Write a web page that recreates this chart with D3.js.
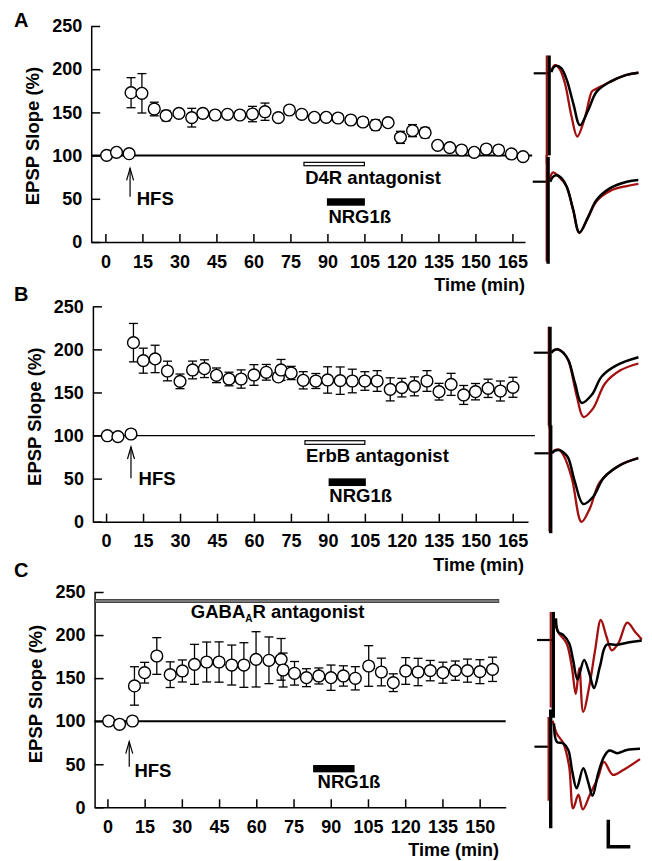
<!DOCTYPE html>
<html>
<head>
<meta charset="utf-8">
<script src="https://cdn.jsdelivr.net/npm/d3@7"></script>
<style>
  body { margin: 0; background: #fff; }
  svg text { font-family: "Liberation Sans", Arial, sans-serif; font-weight: bold; fill: #000; }
</style>
</head>
<body>
<svg id="fig" width="652" height="861"></svg>
<script>
// ── Data: time (min), mean EPSP slope (%), SEM ───────────────────────────────
const aTime = [0.5, 4.5, 9.6, 10.4, 14.8, 19.8, 24.6, 29.8, 35, 39.5, 44.5, 49.5, 54.5,
  59.6, 64.7, 70.1, 74.6, 79.6, 84.7, 89.5, 94.3, 99.5, 104.4, 109.5, 114.6, 119.6,
  124.5, 129.6, 134.7, 139.6, 144.4, 149.5, 154.4, 159.4, 164.6, 169.3];
const aMean = [100.3, 103.8, 102.2, 172.8, 172.1, 153.9, 146.2, 148.9, 143.9, 148.9, 147,
  147.8, 147, 148.1, 150.8, 143.9, 152.8, 147.8, 144.3, 144.3, 143.5, 141.2, 138.9, 135.4,
  138.1, 121.1, 128.9, 126.5, 111.9, 109.2, 106.5, 103.8, 107.6, 106.5, 101.9, 98.8];
const aSem = [1, 1, 1, 17.4, 22.8, 7.9, 6, 3, 10.8, 2, 2, 2, 2, 8.9, 10, 4, 3, 2, 2, 3, 2,
  3, 5, 6, 3, 7, 7, 6, 3, 3, 3, 3, 3, 3, 3, 3];

const bTime = [0.5, 4.8, 10.1, 11.1, 15.1, 19.9, 24.9, 30, 35.1, 39.9, 44.8, 49.9, 54.8,
  60, 65, 69.9, 71, 75.1, 80, 85.1, 89.9, 95, 99.9, 105, 110, 115.3, 120, 125.1, 130.2,
  135.1, 140, 145.1, 149.9, 155, 160, 165.1];
const bMean = [99.8, 98.7, 101.8, 207.8, 186.9, 188.9, 174.9, 162.9, 176.1, 177.6, 169.9,
  165.6, 165.6, 170.3, 173.4, 168, 176.1, 172.6, 164.1, 163.3, 164.5, 163.7, 163.3, 163.3,
  163.3, 153.6, 155.6, 157.1, 163.3, 150.9, 159.4, 147.1, 150.9, 154.8, 151.7, 156];
const bSem = [1, 1, 1, 22.3, 14.5, 15.9, 11.4, 8.5, 10.3, 10.3, 8.5, 7.9, 10.6, 12, 9.1, 5,
  12.2, 7.7, 10, 8.7, 15.3, 15.9, 13.7, 10.8, 12, 13.4, 10.8, 11, 12, 9.7, 12.8, 11, 9.5,
  10.6, 11.6, 11.6];

const cTime = [0.5, 4.9, 10.1, 10.9, 15, 19.9, 25.3, 30.2, 35.1, 40, 45, 50.1, 55, 59.9,
  65.1, 70, 70.8, 75.4, 80.2, 85.2, 90.1, 95.1, 99.9, 105.3, 110.4, 115.2, 120.2, 125.2,
  130.1, 135.2, 140.2, 145.1, 150.1, 155.2];
const cMean = [100.2, 96.4, 100.2, 140.9, 156.3, 175.7, 154, 158.3, 166, 168.7, 168.7,
  165.2, 165.2, 171.8, 170.7, 171.8, 159.4, 155.6, 150.5, 152.5, 150.5, 152.5, 149.8, 164.1,
  157.1, 144.7, 158.3, 157.1, 158.7, 156.3, 158.7, 158.7, 157.5, 160.2];
const cSem = [1, 1, 1, 22.3, 12, 21.3, 14.9, 12.8, 23.2, 23.2, 23.4, 23.2, 25.9, 32.1, 27.1,
  24.2, 19.7, 13.7, 10.4, 9.3, 14.7, 11.8, 13.5, 23.6, 16.1, 10.3, 15.5, 15.9, 11.8, 12.2,
  11.2, 13.4, 13.9, 14.1];

const yTicks = [0, 50, 100, 150, 200, 250];
const xTicksAB = [0, 15, 30, 45, 60, 75, 90, 105, 120, 135, 150, 165];
const xTicksC = [0, 15, 30, 45, 60, 75, 90, 105, 120, 135, 150];

// ── Example traces: [ms, mV] (black = baseline, red = after treatment) ───────
const trA1k = [[0.3,0.02],[0.8,0.11],[1.5,0.14],[2.6,0.09],[3.8,-0.12],[5.3,-0.56],[6.8,-0.96],[8.7,-0.68],[10.6,-0.34],[13.6,-0.16],[17.4,-0.03],[20.1,0.01]];
const trA1r = [[0.3,0.04],[1.1,0.15],[2.2,0.08],[3.4,-0.19],[4.9,-0.80],[6.2,-1.17],[8.0,-0.80],[9.5,-0.34],[10.2,-0.30],[12.1,-0.22],[13.6,-0.16],[17.4,-0.03],[20.1,0.01]];
const trA2k = [[0.3,0.0],[0.9,0.09],[1.75,0.12],[2.8,0.07],[4.0,-0.09],[5.5,-0.52],[6.9,-0.94],[8.9,-0.65],[10.8,-0.34],[13.9,-0.12],[17.7,0],[20.3,0.03]];
const trA2r = [[0.2,0.05],[0.85,0.17],[2.4,0.08],[4.0,-0.09],[5.5,-0.53],[6.9,-0.95],[8.9,-0.66],[10.8,-0.36],[13.9,-0.17],[17.7,-0.08],[20.3,-0.04]];
const trB1k = [[0.3,0.0],[1.0,0.05],[1.9,0.06],[3.0,0.0],[4.2,-0.14],[5.7,-0.57],[7.2,-0.93],[9.5,-0.78],[11.75,-0.44],[15.2,-0.23],[20.1,-0.085]];
const trB1r = [[0.3,0.0],[1.0,0.05],[1.9,0.06],[3.0,0.0],[4.2,-0.15],[6.1,-0.81],[7.6,-1.19],[9.8,-1.03],[12.5,-0.57],[15.9,-0.33],[20.1,-0.20]];
const trB2k = [[0.3,0.0],[1.0,0.05],[1.95,0.06],[3.0,0.01],[4.0,-0.09],[5.5,-0.53],[7.4,-0.94],[9.7,-0.80],[12.0,-0.46],[15.75,-0.22],[19.9,-0.09]];
const trB2r = [[0.3,0.01],[1.0,0.06],[1.8,0.07],[3.0,-0.05],[4.8,-0.46],[7.0,-1.27],[8.9,-1.02],[11.2,-0.53],[15.75,-0.22],[19.9,-0.09]];
const trC1k = [[0.6,0.40],[1.1,0.15],[2.3,0.09],[3.6,-0.06],[4.5,-0.37],[5.5,-0.73],[7.0,-0.37],[8.2,-0.62],[9.25,-0.89],[10.6,-0.49],[12.1,-0.09],[14.4,-0.09],[16.7,-0.05],[20.1,-0.01]];
const trC1r = [[0,0.46],[1.1,0.15],[3.0,-0.06],[4.2,-0.49],[5.1,-1.0],[5.9,-0.52],[6.8,-1.33],[8.3,-0.80],[9.5,-0.19],[10.8,0.37],[12.1,0.06],[13.3,-0.19],[14.8,-0.06],[16.8,0.32],[18.6,0.15],[20.1,0.01]];
const trC2k = [[0.75,0.43],[1.4,0.09],[2.9,0.06],[4.0,-0.06],[4.9,-0.46],[5.9,-0.77],[7.4,-0.40],[8.5,-0.65],[9.5,-0.91],[10.8,-0.49],[12.1,-0.19],[13.3,-0.07],[15.1,-0.12],[17.3,-0.06],[20.3,-0.04]];
const trC2r = [[0.45,0.48],[1.4,0.24],[2.9,0.06],[4.2,-0.37],[5.1,-1.14],[6.3,-0.89],[7.3,-1.16],[8.9,-0.89],[10.8,-0.56],[12.1,-0.28],[14.1,-0.52],[16.5,-0.43],[20.3,-0.23]];

// ── Layout ───────────────────────────────────────────────────────────────────
const panels = [
  { letter: "A", time: aTime, mean: aMean, sem: aSem, xTicks: xTicksAB,
    xDom: [-5.76, 170.1], xRange: [91.2, 525], yRange: [242, 26], lineEnd: 173, lineW: 2,
    letterPos: [14, 27], titleX: 39, titleY: 136, timePos: [525, 291],
    hfs: { t: 10, from: 52.4, to: 85.3, tx: 12.7, ty: 42.8 },
    open: { t0: 80.5, t1: 105, v0: 88.3, v1: 92.2, label: "D4R antagonist", tx: 81, ty: 66.8 },
    nrg: { t0: 89.8, t1: 105.2, v0: 42, v1: 50.6, tx: 90.4, ty: 22.3 } },
  { letter: "B", time: bTime, mean: bMean, sem: bSem, xTicks: xTicksAB,
    xDom: [-5.35, 171.2], xRange: [92.9, 528], yRange: [521.7, 306.3], lineEnd: 174, lineW: 1.3,
    letterPos: [14, 301], titleX: 41, titleY: 416.7, timePos: [524, 571],
    hfs: { t: 10.1, from: 50.3, to: 86.7, tx: 13.2, ty: 42.6 },
    open: { t0: 80.7, t1: 105, v0: 89.8, v1: 94, label: "ErbB antagonist", tx: 81.1, ty: 69.7 },
    nrg: { t0: 90.3, t1: 105.4, v0: 41.4, v1: 50.3, tx: 90.6, ty: 23.2 } },
  { letter: "C", time: cTime, mean: cMean, sem: cSem, xTicks: xTicksC,
    xDom: [-5.16, 160.5], xRange: [94.6, 505.7], yRange: [807.3, 592], lineEnd: 160.5, lineW: 2,
    letterPos: [14, 577], titleX: 42, titleY: 694, timePos: [499, 856],
    hfs: { t: 8.8, from: 47.2, to: 76.2, tx: 10.9, ty: 35.6 },
    gaba: { t1: 157.7, v0: 237.8, v1: 241.3, tx: 33.6, ty: 219.4 },
    nrg: { t0: 82.9, t1: 99.6, v0: 40.6, v1: 49.1, tx: 84.7, ty: 22 } }
];

const traces = [
  { ox: 550, oy: 73.3, k: trA1k, r: trA1r, artK: [-0.2, 0.33, -1.52], artR: [-0.75, 0.33, -1.67] },
  { ox: 549, oy: 181.7, k: trA2k, r: trA2r, artK: [-0.2, 0.46, -1.52], artR: [-0.55, 0.5, -1.48] },
  { ox: 550, oy: 352.7, k: trB1k, r: trB1r, artK: [0, 0.48, -1.40], artR: [-0.3, 0.48, -1.35] },
  { ox: 550.7, oy: 453.3, k: trB2k, r: trB2r, artK: [0, 0.52, -1.48], artR: [-0.3, 0.5, -1.45] },
  { ox: 553.3, oy: 640, k: trC1k, r: trC1r, artK: [0, 0.52, -1.44], artR: [-0.6, 0.52, -1.25] },
  { ox: 550.7, oy: 746.7, k: trC2k, r: trC2r, artK: [0, 0.69, -1.51], artR: [-0.5, 0.55, -1.0] }
];

const RED = "#a31010";
const svg = d3.select("#fig");

// ── Time-course panels ───────────────────────────────────────────────────────
function drawPanel(p) {
  const x = d3.scaleLinear().domain(p.xDom).range(p.xRange);
  const y = d3.scaleLinear().domain([0, 250]).range(p.yRange);
  const g = svg.append("g");
  const pts = p.time.map((t, i) => ({ t, m: p.mean[i], s: p.sem[i] }));

  g.append("text").attr("x", p.letterPos[0]).attr("y", p.letterPos[1])
    .attr("font-size", 20).text(p.letter);

  const xa = g.append("g").attr("transform", `translate(0,${y(0)})`)
    .call(d3.axisBottom(x).tickValues(p.xTicks).tickSize(-8).tickSizeOuter(0).tickPadding(13));
  const ya = g.append("g").attr("transform", `translate(${p.xRange[0]},0)`)
    .call(d3.axisLeft(y).tickValues(yTicks).tickSize(-9).tickSizeOuter(0).tickPadding(9));
  [xa, ya].forEach(a => {
    a.attr("font-size", 18).attr("font-family", null);
    a.selectAll("path, line").attr("stroke", "#000").attr("stroke-width", 1.5);
  });

  g.append("text").attr("transform", `translate(${p.titleX},${p.titleY}) rotate(-90)`)
    .attr("text-anchor", "middle").attr("font-size", 18.5).text("EPSP Slope (%)");
  g.append("text").attr("x", p.timePos[0]).attr("y", p.timePos[1])
    .attr("text-anchor", "end").attr("font-size", 18).text("Time (min)");

  // 100 % reference line
  g.append("line").attr("x1", p.xRange[0]).attr("x2", x(p.lineEnd))
    .attr("y1", y(100)).attr("y2", y(100)).attr("stroke", "#000").attr("stroke-width", p.lineW);

  // treatment bars
  if (p.open) {
    g.append("rect").attr("x", x(p.open.t0)).attr("width", x(p.open.t1) - x(p.open.t0))
      .attr("y", y(p.open.v1)).attr("height", y(p.open.v0) - y(p.open.v1))
      .attr("fill", "#fff").attr("stroke", "#000").attr("stroke-width", 1.2);
    g.append("text").attr("x", x(p.open.tx)).attr("y", y(p.open.ty))
      .attr("font-size", 18.5).text(p.open.label);
  }
  if (p.gaba) {
    g.append("rect").attr("x", p.xRange[0]).attr("width", x(p.gaba.t1) - p.xRange[0])
      .attr("y", y(p.gaba.v1)).attr("height", y(p.gaba.v0) - y(p.gaba.v1))
      .attr("fill", "#7a7a7a").attr("stroke", "#454545").attr("stroke-width", 1);
    const gt = g.append("text").attr("x", x(p.gaba.tx)).attr("y", y(p.gaba.ty)).attr("font-size", 18.5);
    gt.append("tspan").text("GABA");
    gt.append("tspan").attr("font-size", 10).attr("dy", 4).text("A");
    gt.append("tspan").attr("dy", -4).text("R antagonist");
  }
  g.append("rect").attr("x", x(p.nrg.t0)).attr("width", x(p.nrg.t1) - x(p.nrg.t0))
    .attr("y", y(p.nrg.v1)).attr("height", y(p.nrg.v0) - y(p.nrg.v1)).attr("fill", "#000");
  g.append("text").attr("x", x(p.nrg.tx)).attr("y", y(p.nrg.ty))
    .attr("font-size", 18.5).text("NRG1ß");

  // HFS arrow
  const ax = x(p.hfs.t), tip = y(p.hfs.to);
  g.append("line").attr("x1", ax).attr("x2", ax).attr("y1", y(p.hfs.from)).attr("y2", tip)
    .attr("stroke", "#000").attr("stroke-width", 1.2);
  g.append("path").attr("d", `M${ax - 3.5},${tip + 12} L${ax},${tip} L${ax + 3.5},${tip + 12}`)
    .attr("fill", "none").attr("stroke", "#000").attr("stroke-width", 1.2);
  g.append("text").attr("x", x(p.hfs.tx)).attr("y", y(p.hfs.ty))
    .attr("font-size", 18.5).text("HFS");

  // error bars
  const eb = g.append("g").attr("stroke", "#000").attr("stroke-width", 1.3)
    .selectAll("g").data(pts).join("g");
  eb.append("line").attr("x1", d => x(d.t)).attr("x2", d => x(d.t))
    .attr("y1", d => y(d.m - d.s)).attr("y2", d => y(d.m + d.s));
  [-1, 1].forEach(sg => eb.append("line")
    .attr("x1", d => x(d.t) - 4.5).attr("x2", d => x(d.t) + 4.5)
    .attr("y1", d => y(d.m + sg * d.s)).attr("y2", d => y(d.m + sg * d.s)));

  // points
  g.append("g").selectAll("circle").data(pts).join("circle")
    .attr("cx", d => x(d.t)).attr("cy", d => y(d.m)).attr("r", 5.9)
    .attr("fill", "#fff").attr("stroke", "#000").attr("stroke-width", 1.4);
}
panels.forEach(drawPanel);

// ── Example traces ───────────────────────────────────────────────────────────
const tx = d3.scaleLinear().domain([0, 5]).range([0, 22]);     // 5 ms
const ty = d3.scaleLinear().domain([0, 0.5]).range([0, -27]);  // 0.5 mV

traces.forEach(tr => {
  const g = svg.append("g").attr("transform", `translate(${tr.ox},${tr.oy})`);
  const line = d3.line().x(d => tx(d[0])).y(d => ty(d[1])).curve(d3.curveCatmullRom.alpha(0.5));
  g.append("line").attr("x1", tx(-3.7)).attr("x2", tx(0)).attr("y1", ty(0)).attr("y2", ty(0))
    .attr("stroke", "#000").attr("stroke-width", 2.2);
  g.append("line").attr("x1", tx(tr.artR[0])).attr("x2", tx(tr.artR[0]))
    .attr("y1", ty(tr.artR[1])).attr("y2", ty(tr.artR[2])).attr("stroke", RED).attr("stroke-width", 2);
  g.append("path").attr("d", line(tr.r)).attr("fill", "none").attr("stroke", RED).attr("stroke-width", 2.3);
  g.append("line").attr("x1", tx(tr.artK[0])).attr("x2", tx(tr.artK[0]))
    .attr("y1", ty(tr.artK[1])).attr("y2", ty(tr.artK[2])).attr("stroke", "#000").attr("stroke-width", 3.4);
  g.append("path").attr("d", line(tr.k)).attr("fill", "none").attr("stroke", "#000").attr("stroke-width", 2.5);
});

// scale bar
const sb = svg.append("g").attr("transform", "translate(608.3,846.7)");
sb.append("path").attr("d", `M0,${ty(0.5)} L0,0 L${tx(5)},0`)
  .attr("fill", "none").attr("stroke", "#000").attr("stroke-width", 3.5);
</script>
</body>
</html>
